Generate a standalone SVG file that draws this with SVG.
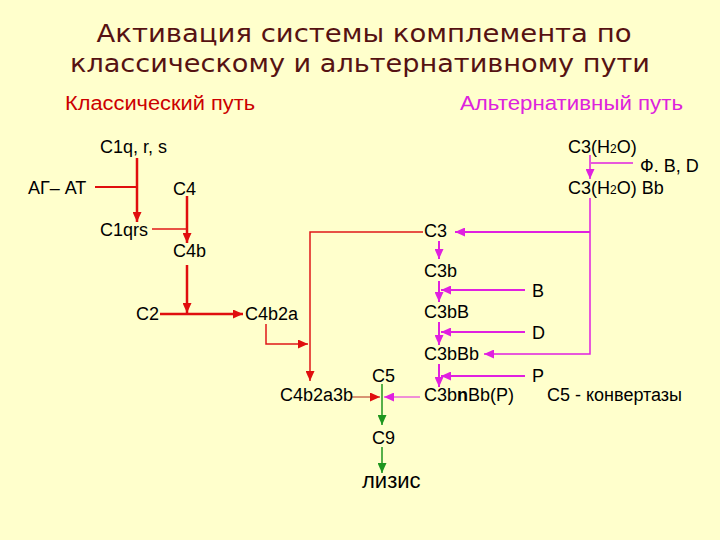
<svg xmlns="http://www.w3.org/2000/svg" width="720" height="540" viewBox="0 0 720 540">
<defs>
<style>
.t{font-family:"Liberation Sans",Arial,sans-serif;font-size:18px;fill:#000}
.title{font-family:"DejaVu Sans",Verdana,sans-serif;font-size:24px;fill:#561212;text-anchor:middle}
.hd{font-family:"Liberation Sans",Arial,sans-serif;font-size:20px}
.r{fill:none;stroke:#E00E0E;stroke-width:2.5}
.rt{fill:none;stroke:#E01818;stroke-width:1.5}
.m{fill:none;stroke:#E020E0;stroke-width:2}
.mt{fill:none;stroke:#E020E0;stroke-width:1.5}
.g{fill:none;stroke:#1E961E;stroke-width:1.5}
</style>
<marker id="ar" markerUnits="userSpaceOnUse" markerWidth="10" markerHeight="9" refX="10" refY="4.5" orient="auto"><path d="M0,0 L10,4.5 L0,9 z" fill="#E00E0E"/></marker>
<marker id="am" markerUnits="userSpaceOnUse" markerWidth="10" markerHeight="9" refX="10" refY="4.5" orient="auto"><path d="M0,0 L10,4.5 L0,9 z" fill="#E020E0"/></marker>
<marker id="ag" markerUnits="userSpaceOnUse" markerWidth="10" markerHeight="9" refX="10" refY="4.5" orient="auto"><path d="M0,0 L10,4.5 L0,9 z" fill="#1E961E"/></marker>
</defs>
<rect width="720" height="540" fill="#FFFFCC"/>
<text class="title" x="364" y="42" textLength="535" lengthAdjust="spacingAndGlyphs">Активация системы комплемента по</text>
<text class="title" x="360" y="72" textLength="580" lengthAdjust="spacingAndGlyphs">классическому и альтернативному пути</text>
<text class="hd" x="65" y="110" fill="#CC0000" textLength="190" lengthAdjust="spacingAndGlyphs">Классический путь</text>
<text class="hd" x="460" y="110" fill="#DD22DD" textLength="223" lengthAdjust="spacingAndGlyphs">Альтернативный путь</text>

<g id="connectors">
<path class="r" d="M137,158 V222" marker-end="url(#ar)"/>
<path class="r" d="M95,187 H137" style="stroke-width:2"/>
<path class="r" d="M187,196 V243" marker-end="url(#ar)"/>
<path class="rt" d="M152,229 H187"/>
<path class="r" d="M187,265 V313" marker-end="url(#ar)"/>
<path class="r" d="M160,314 H243" marker-end="url(#ar)"/>
<path class="rt" d="M266,324 V344 H308" marker-end="url(#ar)"/>
<path class="rt" d="M423,232 H310 V381" marker-end="url(#ar)"/>
<path class="rt" d="M352,397 H380" style="stroke:#B02A1A;stroke-width:1" marker-end="url(#ar)"/>
<path class="mt" d="M590,155 V179" marker-end="url(#am)"/>
<path class="mt" d="M633,163 H591"/>
<path class="mt" d="M590,198 V354 H484" marker-end="url(#am)"/>
<path class="m" d="M590,232 H455" marker-end="url(#am)"/>
<path class="m" d="M439,241 V259" marker-end="url(#am)"/>
<path class="m" d="M439,281 V302" marker-end="url(#am)"/>
<path class="m" d="M525,290 H441" marker-end="url(#am)"/>
<path class="m" d="M439,322 V345" marker-end="url(#am)"/>
<path class="m" d="M525,332 H441" marker-end="url(#am)"/>
<path class="m" d="M439,364 V387" marker-end="url(#am)"/>
<path class="m" d="M525,376 H441" marker-end="url(#am)"/>
<path class="mt" d="M420,397 H384" style="stroke-width:1" marker-end="url(#am)"/>
<path class="g" d="M382,384 V425" marker-end="url(#ag)"/>
<path class="g" d="M382,447 V473" marker-end="url(#ag)"/>
</g>

<g id="n-c1qrs-in"><text class="t" x="100" y="153">C1q, r, s</text></g>
<g id="n-agat"><text class="t" x="28" y="194">АГ– АТ</text></g>
<g id="n-c4"><text class="t" x="173" y="195">C4</text></g>
<g id="n-c1qrs"><text class="t" x="100" y="236">C1qrs</text></g>
<g id="n-c4b"><text class="t" x="173" y="257">C4b</text></g>
<g id="n-c2"><text class="t" x="136" y="320">C2</text></g>
<g id="n-c4b2a"><text class="t" x="245" y="320">C4b2a</text></g>
<g id="n-c4b2a3b"><text class="t" x="280" y="401">C4b2a3b</text></g>
<g id="n-c5"><text class="t" x="372" y="382">C5</text></g>
<g id="n-c9"><text class="t" x="372" y="444">C9</text></g>
<g id="n-lysis"><text class="t" x="362" y="488" style="font-size:22px">лизис</text></g>
<g id="n-c3h2o"><text class="t" x="568" y="153">C3(H<tspan style="font-size:12px">2</tspan>O)</text></g>
<g id="n-fbd"><text class="t" x="640" y="172">Ф. B, D</text></g>
<g id="n-c3h2obb"><text class="t" x="568" y="194">C3(H<tspan style="font-size:12px">2</tspan>O) Bb</text></g>
<g id="n-c3"><text class="t" x="424" y="237">C3</text></g>
<g id="n-c3b"><text class="t" x="424" y="277">C3b</text></g>
<g id="n-b"><text class="t" x="532" y="297">B</text></g>
<g id="n-c3bb"><text class="t" x="424" y="318">C3bB</text></g>
<g id="n-d"><text class="t" x="532" y="339">D</text></g>
<g id="n-c3bbb"><text class="t" x="424" y="360">C3bBb</text></g>
<g id="n-p"><text class="t" x="532" y="382">P</text></g>
<g id="n-c3bnbbp"><text class="t" x="424" y="401">C3b<tspan style="font-weight:bold">n</tspan>Bb(P)</text></g>
<g id="n-conv"><text class="t" x="547" y="401">C5 - конвертазы</text></g>
</svg>
